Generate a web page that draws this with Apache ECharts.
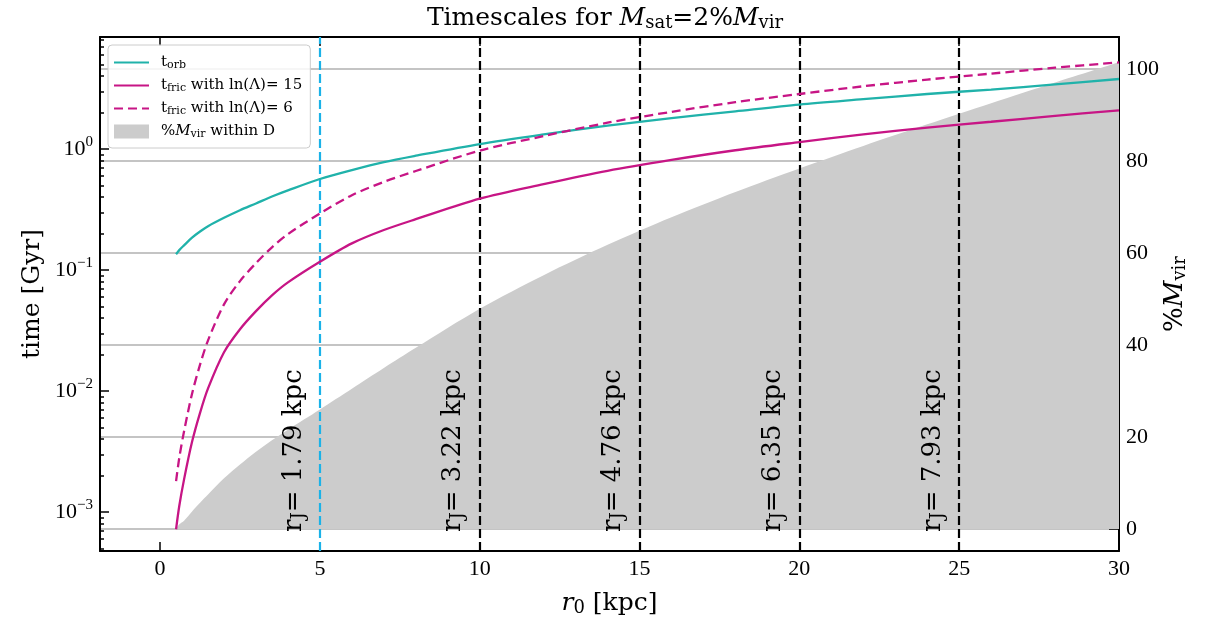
<!DOCTYPE html>
<html><head><meta charset="utf-8">
<script src="https://cdn.jsdelivr.net/npm/echarts@6/dist/echarts.min.js"></script>
<style>html,body{margin:0;padding:0;background:#fff}#c{width:1210px;height:622px}</style>
</head><body><div id="c"></div>
<script>
// ---- data ----
const rKpc    = [0.5, 0.6, 0.75, 1, 1.25, 1.5, 2, 2.5, 3, 3.5, 4, 5, 6, 7, 8, 10, 12, 14, 16, 18, 20, 22, 24, 26, 28, 30];
const tOrb    = [0.135, 0.146, 0.16, 0.185, 0.208, 0.23, 0.27, 0.312, 0.355, 0.405, 0.455, 0.565, 0.67, 0.78, 0.88, 1.10, 1.32, 1.56, 1.80, 2.05, 2.33, 2.58, 2.85, 3.10, 3.42, 3.79];
const tFric15 = [7.2e-4, 1.12e-3, 1.86e-3, 3.8e-3, 6.6e-3, 0.0105, 0.0209, 0.0324, 0.0457, 0.0617, 0.079, 0.117, 0.166, 0.214, 0.263, 0.389, 0.513, 0.661, 0.813, 0.977, 1.14, 1.32, 1.50, 1.68, 1.88, 2.09];
const tFric6  = [1.8e-3, 2.8e-3, 4.65e-3, 9.5e-3, 0.0165, 0.0262, 0.052, 0.081, 0.114, 0.154, 0.198, 0.293, 0.415, 0.535, 0.658, 0.97, 1.28, 1.65, 2.03, 2.44, 2.85, 3.3, 3.75, 4.2, 4.7, 5.2];
const pctMvir = [0, 1.0, 1.8, 3.8, 5.7, 7.5, 11, 14, 16.8, 19.3, 21.6, 26, 30.5, 35.0, 39.4, 47.9, 55.2, 61.8, 67.8, 73.3, 78.4, 83.3, 88.0, 92.6, 97.1, 101.5];
const jacobiX      = [5, 10, 15, 20, 25];
const jacobiLabels = ['1.79', '3.22', '4.76', '6.35', '7.93'];
const xTicks   = [0, 5, 10, 15, 20, 25, 30];
const logTicks = [1e-3, 1e-2, 1e-1, 1];
const pctTicks = [0, 20, 40, 60, 80, 100];

// ---- styling ----
const FONT = "'DejaVu Serif', 'Liberation Serif', serif";
const NUMFONT = "'Liberation Serif', 'DejaVu Serif', serif";
const TEAL = '#20b2aa', MAGENTA = '#c71585', GREY = '#cccccc', BLUE = '#1ab2e8';
const X_MIN = -1.88, X_MAX = 30;
const LOG_MIN = 4.76e-4, LOG_MAX = 8.43;
const PCT_MIN = -4.8, PCT_MAX = 107;

function rich(S, fam) {
  const f = fam || FONT;
  return {
    n:   { fontSize: S, fontFamily: f, color: '#000', fontWeight: 'normal' },
    i:   { fontSize: S, fontFamily: f, color: '#000', fontStyle: 'italic', fontWeight: 'normal' },
    sub: { fontSize: Math.round(S * 0.7), fontFamily: f, color: '#000', fontWeight: 'normal', padding: [Math.round(S * 0.4), 0, 0, 0] },
    sup: { fontSize: Math.round(S * 0.7), fontFamily: f, color: '#000', fontWeight: 'normal', padding: [0, 0, Math.round(S * 0.6), 0] },
    g:   { fontSize: S, fontFamily: f, width: 7 }
  };
}

const minorTicks = [];
for (let e = -4; e <= 0; e++) {
  for (let m = 2; m <= 9; m++) {
    const v = m * Math.pow(10, e);
    if (v > LOG_MIN && v < LOG_MAX) minorTicks.push(v);
  }
}

const LEGEND_TEXT = {
  t_orb: '{g| }{n|t}{sub|orb}',
  t_fric15: '{g| }{n|t}{sub|fric}{n| with ln(Λ)= 15}',
  t_fric6: '{g| }{n|t}{sub|fric}{n| with ln(Λ)= 6}',
  pct: '{g| }{n|%}{i|M}{sub|vir}{n| within D}'
};

const pair = arr => rKpc.map((x, k) => [x, arr[k]]);

const axisLineStyle = { color: '#000', width: 2 };
const tickStyle = { color: '#000', width: 1.5 };

const option = {
  animation: false,
  backgroundColor: '#fff',
  textStyle: { fontFamily: FONT },
  title: {
    text: '{n|Timescales for }{i|M}{sub|sat}{n|=2%}{i|M}{sub|vir}',
    left: 'center',
    top: 0,
    padding: [4, 0, 4, 9],
    textStyle: { fontWeight: 'normal', rich: rich(25) }
  },
  legend: {
    orient: 'vertical',
    left: 108, top: 45,
    padding: [10, 8, 8, 5],
    itemGap: 7,
    itemWidth: 35, itemHeight: 14,
    backgroundColor: 'rgba(255,255,255,0.85)',
    borderColor: '#cccccc', borderWidth: 1, borderRadius: 4,
    itemStyle: { opacity: 0 },
    data: [
      { name: 't_orb' },
      { name: 't_fric15' },
      { name: 't_fric6' },
      { name: 'pct', icon: 'rect', itemStyle: { opacity: 1, color: GREY } }
    ],
    formatter: name => LEGEND_TEXT[name],
    textStyle: { rich: rich(15) }
  },
  grid: { left: 100, right: 91, top: 37, bottom: 71, containLabel: false, outerBoundsMode: 'none' },
  xAxis: [
    {
      type: 'value', min: X_MIN, max: X_MAX, position: 'bottom',
      axisLine: { onZero: false, lineStyle: axisLineStyle },
      axisTick: { inside: true, length: 9, lineStyle: tickStyle, customValues: xTicks },
      axisLabel: { customValues: xTicks, color: '#000', fontSize: 22, fontFamily: NUMFONT, margin: 7 },
      splitLine: { show: false },
      name: '{i|r}{sub|0}{n| [kpc]}', nameLocation: 'middle', nameGap: 38, nameMoveOverlap: false,
      nameTextStyle: { rich: rich(25) }
    },
    {
      type: 'value', min: X_MIN, max: X_MAX, position: 'top',
      axisLine: { onZero: false, lineStyle: axisLineStyle },
      axisTick: { inside: true, length: 9, lineStyle: tickStyle, customValues: xTicks },
      axisLabel: { show: false }, splitLine: { show: false }
    }
  ],
  yAxis: [
    {
      type: 'log', logBase: 10, min: LOG_MIN, max: LOG_MAX, position: 'left',
      axisLine: { onZero: false, lineStyle: axisLineStyle },
      axisTick: { inside: true, length: 9, lineStyle: tickStyle, customValues: logTicks },
      axisLabel: {
        customValues: logTicks, margin: 7,
        formatter: v => {
          const e = Math.round(Math.log10(v));
          return '{n|10}{sup|' + (e < 0 ? '\u2212' + (-e) : e) + '}';
        },
        rich: rich(22, NUMFONT)
      },
      splitLine: { show: false },
      name: 'time [Gyr]', nameLocation: 'middle', nameGap: 55, nameRotate: 90, nameMoveOverlap: false,
      nameTextStyle: { fontSize: 25, fontFamily: FONT, color: '#000' }
    },
    {
      type: 'log', logBase: 10, min: LOG_MIN, max: LOG_MAX, position: 'left',
      axisLine: { show: false, onZero: false },
      axisTick: { inside: true, length: 4, lineStyle: tickStyle, customValues: minorTicks },
      axisLabel: { show: false }, splitLine: { show: false }
    },
    {
      type: 'value', min: PCT_MIN, max: PCT_MAX, position: 'right',
      axisLine: { onZero: false, lineStyle: axisLineStyle },
      axisTick: { inside: true, length: 10, lineStyle: tickStyle, customValues: pctTicks },
      axisLabel: { customValues: pctTicks, color: '#000', fontSize: 22, fontFamily: NUMFONT, margin: 7 },
      splitLine: { show: true, lineStyle: { color: '#b0b0b0', width: 1.5 } },
      name: '{n|%}{i|M}{sub|vir}', nameLocation: 'middle', nameGap: 42, nameRotate: 90, nameMoveOverlap: false,
      nameTextStyle: { rich: rich(26) }
    }
  ],
  series: [
    {
      name: 'pct', type: 'line', xAxisIndex: 0, yAxisIndex: 2, z: 1,
      data: pair(pctMvir), symbol: 'none', smooth: 0.3, color: GREY,
      lineStyle: { width: 0, color: GREY }, areaStyle: { color: GREY, opacity: 1 },
      markLine: {
        silent: true, symbol: ['none', 'none'], animation: false, z: 3,
        lineStyle: { type: [9, 4], width: 2.2, color: '#000' },
        label: {
          show: true, position: 'insideStartTop', distance: [0, 12],
          padding: [0, 0, 0, 19], color: '#000', fontSize: 26, fontFamily: FONT,
          rich: { sub: { fontSize: 18, fontFamily: FONT, color: '#000', padding: [10, 0, 0, 0] } }
        },
        data: jacobiX.map((x, k) => ({
          xAxis: x,
          lineStyle: { color: k === 0 ? BLUE : '#000' },
          label: { formatter: 'r{sub|J}= ' + jacobiLabels[k] + ' kpc' }
        }))
      }
    },
    {
      name: 't_orb', type: 'line', xAxisIndex: 0, yAxisIndex: 0, z: 4,
      data: pair(tOrb), symbol: 'none', smooth: 0.3, color: TEAL,
      lineStyle: { width: 2.3, color: TEAL }
    },
    {
      name: 't_fric15', type: 'line', xAxisIndex: 0, yAxisIndex: 0, z: 4,
      data: pair(tFric15), symbol: 'none', smooth: 0.3, color: MAGENTA,
      lineStyle: { width: 2.3, color: MAGENTA }
    },
    {
      name: 't_fric6', type: 'line', xAxisIndex: 0, yAxisIndex: 0, z: 4,
      data: pair(tFric6), symbol: 'none', smooth: 0.3, color: MAGENTA,
      lineStyle: { width: 2.3, color: MAGENTA, type: [9, 5] }
    }
  ]
};

const chart = echarts.init(document.getElementById('c'), null, { renderer: 'canvas' });
chart.setOption(option);
</script></body></html>
